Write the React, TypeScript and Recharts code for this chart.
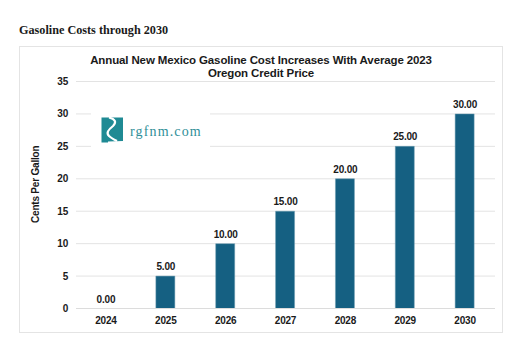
import { Bar, CartesianGrid, ComposedChart, LabelList, Line, XAxis, YAxis } from 'recharts'

const years = ['2024', '2025', '2026', '2027', '2028', '2029', '2030']
const cents = [0, 5, 10, 15, 20, 25, 30]
const yTicks = [0, 5, 10, 15, 20, 25, 30, 35]

const data = years.map((year, i) => ({ year, cents: cents[i] }))

const font = '"Liberation Sans", Arial, sans-serif'
const teal = '#156082'
const axisText = { fontFamily: font, fontSize: 10, letterSpacing: -0.2, fontWeight: 'bold', fill: '#1a1a1a' }

function Logo() {
  return (
    <div
      style={{
        position: 'absolute',
        left: 91,
        top: 105,
        width: 119,
        height: 46,
        background: '#fff',
      }}
    >
      <svg width={119} height={46} style={{ position: 'absolute', left: 0, top: 0 }}>
        <path d="M10.5 12.5 L32 12.5 L32 36 L17 36.5 L17 37.5 L10.5 37.5 Z" fill="#1f8a94" />
        <path
          d="M18 12.5 C24 14 26 17 22 21 C17 25 15 28 18 31 C20 33 23 34.5 26 36"
          fill="none"
          stroke="#fff"
          strokeWidth={2.2}
        />
        <text
          x={39}
          y={30.5}
          fontFamily='"Liberation Serif", serif'
          fontSize={14}
          letterSpacing={1.15}
          fill="#2f8f98"
        >
          rgfnm.com
        </text>
      </svg>
    </div>
  )
}

export default function App() {
  return (
    <div style={{ position: 'absolute', left: 0, top: 0, width: 510, height: 355, background: '#fff' }}>
      <div
        style={{
          position: 'absolute',
          left: 19,
          top: 23,
          fontFamily: '"Liberation Serif", serif',
          fontSize: 12.2,
          fontWeight: 'bold',
          color: '#1a1a1a',
          whiteSpace: 'nowrap',
        }}
      >
        Gasoline Costs through 2030
      </div>
      <div
        style={{
          position: 'absolute',
          left: 19,
          top: 46,
          width: 484,
          height: 287,
          boxSizing: 'border-box',
          border: '1.5px solid #e4e4e4',
        }}
      />
      <ComposedChart
        width={510}
        height={355}
        data={data}
        margin={{ top: 81.5, right: 15, bottom: 0, left: 36 }}
        style={{ position: 'absolute', left: 0, top: 0 }}
      >
        <CartesianGrid vertical={false} stroke="#e3e3e3" strokeWidth={1} />
        <XAxis
          dataKey="year"
          height={46.5}
          axisLine={{ stroke: '#dcdcdc' }}
          tickLine={false}
          tickMargin={2}
          interval={0}
          tick={axisText}
        />
        <YAxis
          domain={[0, 35]}
          ticks={yTicks}
          width={40}
          axisLine={false}
          tickLine={false}
          tickMargin={2}
          tick={axisText}
          label={{
            value: 'Cents Per Gallon',
            angle: -90,
            position: 'insideLeft',
            offset: -1,
            dy: 28,
            style: axisText,
          }}
        />
        <Bar dataKey="cents" fill={teal} stroke="#6f9db3" strokeWidth={0.5} barSize={19} isAnimationActive={false} />
        <Line dataKey="cents" stroke="none" dot={false} activeDot={false} isAnimationActive={false}>
          <LabelList
            dataKey="cents"
            position="top"
            offset={6}
            formatter={(v: number) => v.toFixed(2)}
            style={axisText}
          />
        </Line>
      </ComposedChart>
      <Logo />
      <div
        style={{
          position: 'absolute',
          left: 19,
          width: 484,
          top: 54,
          textAlign: 'center',
          fontFamily: font,
          fontSize: 11.5,
          letterSpacing: -0.13,
          lineHeight: '13.3px',
          fontWeight: 'bold',
          color: '#1a1a1a',
        }}
      >
        Annual New Mexico Gasoline Cost Increases With Average 2023
        <br />
        Oregon Credit Price
      </div>
    </div>
  )
}
